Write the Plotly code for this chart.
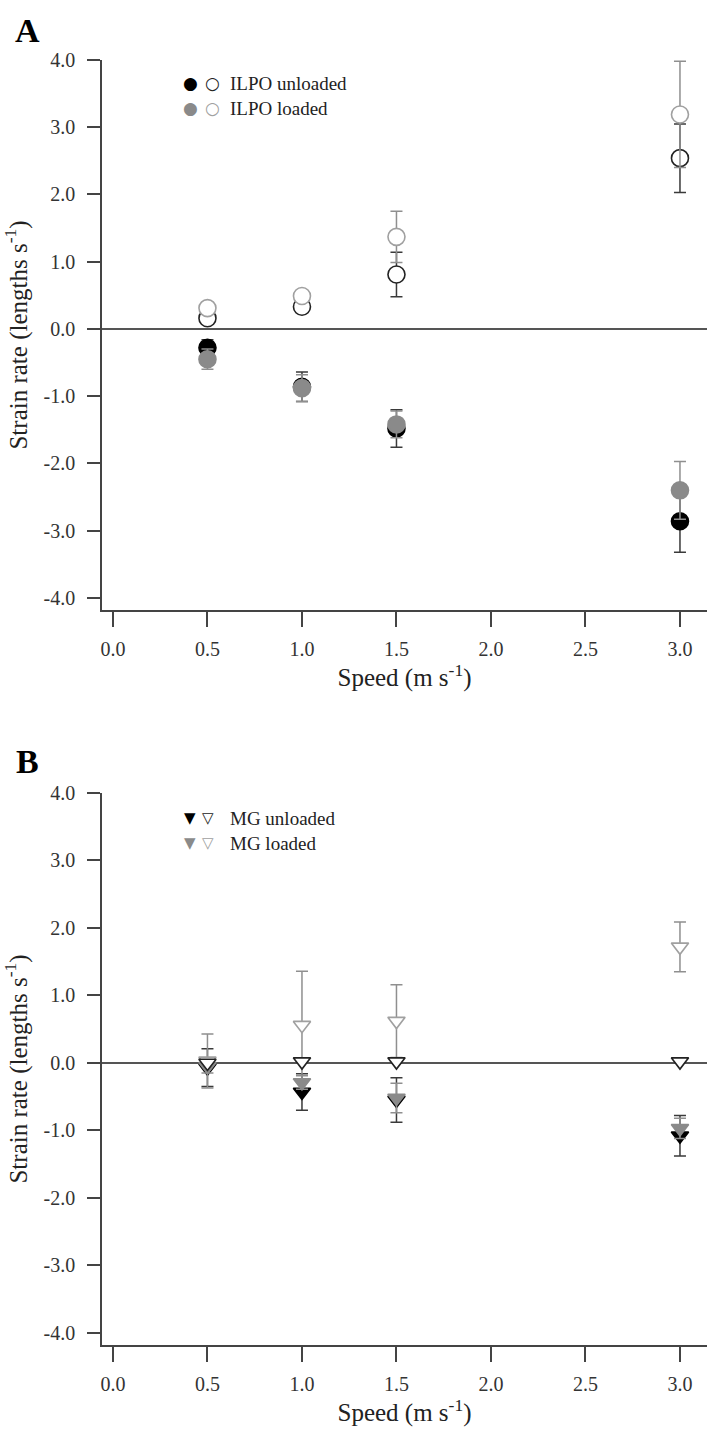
import plotly.graph_objects as go

W, H = 719, 1435

speeds = [0.5, 1.0, 1.5, 3.0]

# Panel A: ILPO (filled = shortening, open = lengthening)
ilpo_unl_fill = [-0.28, -0.86, -1.48, -2.86]
ilpo_unl_fill_err = [0.12, 0.22, 0.28, 0.46]
ilpo_load_fill = [-0.45, -0.88, -1.42, -2.40]
ilpo_load_fill_err = [0.15, 0.20, 0.20, 0.43]
ilpo_unl_open = [0.16, 0.33, 0.81, 2.54]
ilpo_unl_open_err = [0.06, 0.08, 0.33, 0.51]
ilpo_load_open = [0.31, 0.49, 1.37, 3.19]
ilpo_load_open_err = [0.08, 0.08, 0.38, 0.79]

# Panel B: MG
mg_unl_fill = [-0.07, -0.43, -0.55, -1.08]
mg_unl_fill_err = [0.28, 0.27, 0.33, 0.30]
mg_load_fill = [-0.05, -0.29, -0.52, -0.97]
mg_load_fill_err = [0.10, 0.10, 0.22, 0.15]
mg_unl_open = [0.0, 0.02, 0.02, 0.02]
mg_load_open = [0.03, 0.56, 0.62, 1.72]
mg_load_open_err = [0.40, 0.80, 0.54, 0.37]

y_ticks = [-4, -3, -2, -1, 0, 1, 2, 3, 4]
y_tick_text = ["-4.0", "-3.0", "-2.0", "-1.0", "0.0", "1.0", "2.0", "3.0", "4.0"]
x_ticks = [0.0, 0.5, 1.0, 1.5, 2.0, 2.5, 3.0]
x_tick_text = ["0.0", "0.5", "1.0", "1.5", "2.0", "2.5", "3.0"]

BLACK = "#000000"
GRAY = "#8a8a8a"
OPEN_GRAY = "#a0a0a0"
ERR_DARK = "#3a3a3a"
ERR_GRAY = "#8f8f8f"
AXIS_C = "#444444"
FONT = "Liberation Serif"

fig = go.Figure()


def add(x, y, err, xa, ya, symbol, size, fill, line, errc):
    kw = {}
    if err is not None:
        kw["error_y"] = dict(type="data", array=err, visible=True,
                             color=errc, thickness=1.5, width=6)
    fig.add_trace(go.Scatter(
        x=x, y=y, mode="markers", xaxis=xa, yaxis=ya, showlegend=False,
        marker=dict(symbol=symbol, size=size, color=fill,
                    line=dict(color=line, width=1.6)),
        **kw))


# Panel A
add(speeds, ilpo_unl_fill, ilpo_unl_fill_err, "x", "y", "circle", 17, BLACK, BLACK, ERR_DARK)
add(speeds, ilpo_load_fill, ilpo_load_fill_err, "x", "y", "circle", 17, GRAY, GRAY, ERR_GRAY)
add(speeds, ilpo_unl_open, ilpo_unl_open_err, "x", "y", "circle", 17, "white", "#222222", ERR_DARK)
add(speeds, ilpo_load_open, ilpo_load_open_err, "x", "y", "circle", 17, "white", OPEN_GRAY, ERR_GRAY)

# Panel B
add(speeds, mg_unl_fill, mg_unl_fill_err, "x2", "y2", "triangle-down", 15, BLACK, BLACK, ERR_DARK)
add(speeds, mg_load_fill, mg_load_fill_err, "x2", "y2", "triangle-down", 15, GRAY, GRAY, ERR_GRAY)
add(speeds, mg_load_open, mg_load_open_err, "x2", "y2", "triangle-down", 15, "white", OPEN_GRAY, ERR_GRAY)
add(speeds, mg_unl_open, None, "x2", "y2", "triangle-down", 15, "white", "#222222", ERR_DARK)

XR = [-0.058, 3.143]
YR = [-4.18, 4.0]

xcommon = dict(range=XR, tickvals=x_ticks, ticktext=x_tick_text, showgrid=False,
               zeroline=False, showline=True, linecolor=AXIS_C, linewidth=1.5,
               ticks="outside", ticklen=15, tickwidth=1.5, tickcolor=AXIS_C,
               ticklabelstandoff=5,
               tickfont=dict(family=FONT, size=20, color="#333333"),
               title=dict(text="Speed (m s<sup>-1</sup>)", standoff=8,
                          font=dict(family=FONT, size=25, color="#222222")),
               automargin=False)
ycommon = dict(range=YR, tickvals=y_ticks, ticktext=y_tick_text, showgrid=False,
               zeroline=True, zerolinecolor="#555555", zerolinewidth=1.6,
               showline=True, linecolor=AXIS_C, linewidth=1.5,
               ticks="outside", ticklen=13, tickwidth=1.5, tickcolor=AXIS_C,
               ticklabelstandoff=8,
               tickfont=dict(family=FONT, size=20, color="#333333"),
               title=dict(text="Strain rate (lengths s<sup>-1</sup>)", standoff=14,
                          font=dict(family=FONT, size=25, color="#222222")),
               automargin=False)

xdom = [102 / W, 707 / W]
fig.update_layout(
    width=W, height=H,
    margin=dict(l=0, r=0, t=0, b=0),
    paper_bgcolor="white", plot_bgcolor="white",
    xaxis=dict(domain=xdom, anchor="y", **xcommon),
    yaxis=dict(domain=[1 - 610 / H, 1 - 60 / H], anchor="x", **ycommon),
    xaxis2=dict(domain=xdom, anchor="y2", **xcommon),
    yaxis2=dict(domain=[1 - 1345 / H, 1 - 793 / H], anchor="x2", **ycommon),
)

ann = []
# Panel letters
for letter, py in [("A", 31), ("B", 761)]:
    ann.append(dict(text="<b>%s</b>" % letter, x=27 / W, y=1 - py / H,
                    xref="paper", yref="paper", xanchor="center", yanchor="middle",
                    showarrow=False,
                    font=dict(family=FONT, size=34, color="#000000")))


def legend_row(py, sym1, c1, x1, sym2, c2, x2, label, symsize):
    ann.append(dict(text=sym1, x=x1 / W, y=1 - py / H, xref="paper", yref="paper",
                    xanchor="center", yanchor="middle", showarrow=False,
                    font=dict(family="DejaVu Sans", size=symsize, color=c1)))
    ann.append(dict(text=sym2, x=x2 / W, y=1 - py / H, xref="paper", yref="paper",
                    xanchor="center", yanchor="middle", showarrow=False,
                    font=dict(family="DejaVu Sans", size=symsize, color=c2)))
    ann.append(dict(text=label, x=228 / W, y=1 - py / H, xref="paper", yref="paper",
                    xanchor="left", yanchor="middle", showarrow=False,
                    font=dict(family=FONT, size=19, color="#222222")))


legend_row(83, "●", BLACK, 190, "○", "#222222", 212, "ILPO unloaded", 17)
legend_row(108, "●", GRAY, 190, "○", OPEN_GRAY, 212, "ILPO loaded", 17)
legend_row(818, "▼", BLACK, 190, "▽", "#222222", 208, "MG unloaded", 15)
legend_row(843, "▼", GRAY, 190, "▽", OPEN_GRAY, 208, "MG loaded", 15)

fig.update_layout(annotations=ann)

fig.write_html("out.html", config={"displayModeBar": False},
               post_script="document.body.style.margin='0';")
